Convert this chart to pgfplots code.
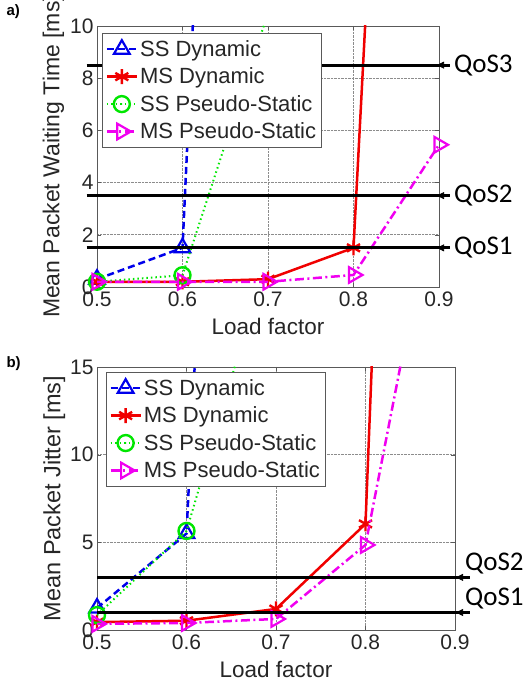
\documentclass[border=0pt]{standalone}
\usepackage{fontspec}
\setmainfont{Liberation Sans}
\newfontfamily\qosfont{Carlito}
\usepackage{pgfplots}
\pgfplotsset{compat=1.18}
\usetikzlibrary{arrows.meta}
\definecolor{mblue}{RGB}{0,0,235}
\definecolor{mred}{RGB}{240,0,0}
\definecolor{mgreen}{RGB}{0,230,0}
\definecolor{mmag}{RGB}{240,0,240}
\tikzset{
  qosline/.style={black, line width=3pt},
  qosarrow/.style={black, line width=0.6pt, -{Triangle[length=7pt,width=7pt]}},
  qostext/.style={inner sep=0pt, font=\qosfont\fontsize{27}{27}\selectfont},
}
\pgfplotsset{
  mystyle/.style={
    scale only axis,
    xmin=0.5, xmax=0.9,
    xtick={0.5,0.6,0.7,0.8,0.9},
    xticklabels={0.5,0.6,0.7,0.8,0.9},
    /pgf/number format/assume math mode=true,
    axis line style={black!65, line width=0.9pt},
    tick style={black!65},
    tick align=inside,
    major tick length=4pt,
    grid=major,
    grid style={densely dotted, black!45, line width=0.7pt},
    tick label style={font=\fontsize{21}{21}\selectfont, text=black!85},
    xticklabel style={yshift=-1pt},
    label style={font=\fontsize{22.5}{22.5}\selectfont, text=black!85},
    clip mode=individual,
    legend cell align=left,
    legend style={draw=black!65, line width=0.9pt, font=\fontsize{22}{24}\selectfont,
      inner xsep=3pt, inner ysep=5pt, row sep=6pt, text=black!85,
      /tikz/every even column/.append style={column sep=0pt}},
    legend image code/.code={\draw[mark repeat=2,mark phase=2] plot coordinates {(0pt,0pt) (15pt,0pt) (30pt,0pt)};},
  },
  ssd/.style={mblue, line width=2.5pt, dash pattern=on 7pt off 4pt, mark=triangle, mark size=9pt, mark options={solid, line width=2.2pt}},
  msd/.style={mred, line width=2.5pt, solid, mark=asterisk, mark size=7.5pt, mark options={solid, line width=2.4pt}},
  ssp/.style={mgreen, line width=2pt, dash pattern=on 1.5pt off 3pt, mark=o, mark size=8pt, mark options={solid, line width=2.4pt}},
  msp/.style={mmag, line width=2.5pt, dash pattern=on 9pt off 3.5pt on 2pt off 3.5pt, mark=triangle, mark size=9pt, mark options={solid, rotate=-90, line width=2.2pt}},
}
\begin{document}
\begin{tikzpicture}
\useasboundingbox (0pt,0pt) rectangle (523pt,688pt);
\node[anchor=north west, font=\bfseries\fontsize{15}{15}\selectfont] at (3pt,687pt) {a)};
\node[anchor=north west, font=\bfseries\fontsize{15}{15}\selectfont] at (3pt,335pt) {b)};

\begin{axis}[mystyle,
  at={(97pt,401pt)}, anchor=south west,
  width=342pt, height=261pt,
  ymin=0, ymax=10, ytick={0,2,4,6,8,10},
  xlabel={Load factor}, ylabel={Mean Packet Waiting Time [ms]},
  xlabel style={yshift=-5pt}, ylabel style={yshift=-1pt, font=\fontsize{23}{23}\selectfont},
  legend style={at={(0.015,0.973)}, anchor=north west},
]
\addplot[ssd] coordinates {(0.5,0.3) (0.6,1.5) (0.7,72)};
\addlegendentry{SS Dynamic}
\addplot[msd] coordinates {(0.5,0.2) (0.6,0.2) (0.7,0.3) (0.8,1.5) (0.9,64)};
\addlegendentry{MS Dynamic}
\addplot[ssp] coordinates {(0.5,0.2) (0.6,0.45) (0.7,10.5) (0.8,30)};
\addlegendentry{SS Pseudo-Static}
\addplot[msp] coordinates {(0.5,0.2) (0.6,0.2) (0.7,0.2) (0.8,0.46) (0.9,5.45)};
\addlegendentry{MS Pseudo-Static}
\draw[qosline] (axis cs:0.488,8.5) -- ([xshift=11pt]axis cs:0.9,8.5);
\draw[qosarrow] ([xshift=8pt]axis cs:0.9,8.5) -- ([xshift=-2pt]axis cs:0.9,8.5);
\node[qostext, anchor=west] at ([xshift=15pt]axis cs:0.9,8.5) {QoS3};
\draw[qosline] (axis cs:0.488,3.5) -- ([xshift=11pt]axis cs:0.9,3.5);
\draw[qosarrow] ([xshift=8pt]axis cs:0.9,3.5) -- ([xshift=-2pt]axis cs:0.9,3.5);
\node[qostext, anchor=west] at ([xshift=15pt]axis cs:0.9,3.5) {QoS2};
\draw[qosline] (axis cs:0.488,1.5) -- ([xshift=11pt]axis cs:0.9,1.5);
\draw[qosarrow] ([xshift=8pt]axis cs:0.9,1.5) -- ([xshift=-2pt]axis cs:0.9,1.5);
\node[qostext, anchor=west] at ([xshift=15pt]axis cs:0.9,1.5) {QoS1};
\end{axis}

\begin{axis}[mystyle,
  at={(97pt,58pt)}, anchor=south west,
  width=358pt, height=263pt,
  ymin=0, ymax=15, ytick={0,5,10,15},
  xlabel={Load factor}, ylabel={Mean Packet Jitter [ms]},
  xlabel style={yshift=-5pt}, ylabel style={yshift=-2pt, font=\fontsize{23.5}{23.5}\selectfont},
  legend style={at={(0.025,0.981)}, anchor=north west},
]
\addplot[ssd] coordinates {(0.5,1.25) (0.6,5.5) (0.7,110)};
\addlegendentry{SS Dynamic}
\addplot[msd] coordinates {(0.5,0.45) (0.6,0.53) (0.7,1.2) (0.8,6.05) (0.9,135)};
\addlegendentry{MS Dynamic}
\addplot[ssp] coordinates {(0.5,0.85) (0.6,5.65) (0.7,23)};
\addlegendentry{SS Pseudo-Static}
\addplot[msp] coordinates {(0.5,0.35) (0.6,0.4) (0.7,0.63) (0.8,4.85) (0.9,31)};
\addlegendentry{MS Pseudo-Static}
\draw[qosline] (axis cs:0.5,3) -- ([xshift=15pt]axis cs:0.9,3);
\draw[qosarrow] ([xshift=12pt]axis cs:0.9,3) -- ([xshift=1pt]axis cs:0.9,3);
\node[qostext, anchor=south west] at ([xshift=10pt,yshift=3pt]axis cs:0.9,3) {QoS2};
\draw[qosline] (axis cs:0.5,1) -- ([xshift=15pt]axis cs:0.9,1);
\draw[qosarrow] ([xshift=12pt]axis cs:0.9,1) -- ([xshift=1pt]axis cs:0.9,1);
\node[qostext, anchor=south west] at ([xshift=10pt,yshift=3pt]axis cs:0.9,1) {QoS1};
\end{axis}
\end{tikzpicture}
\end{document}
